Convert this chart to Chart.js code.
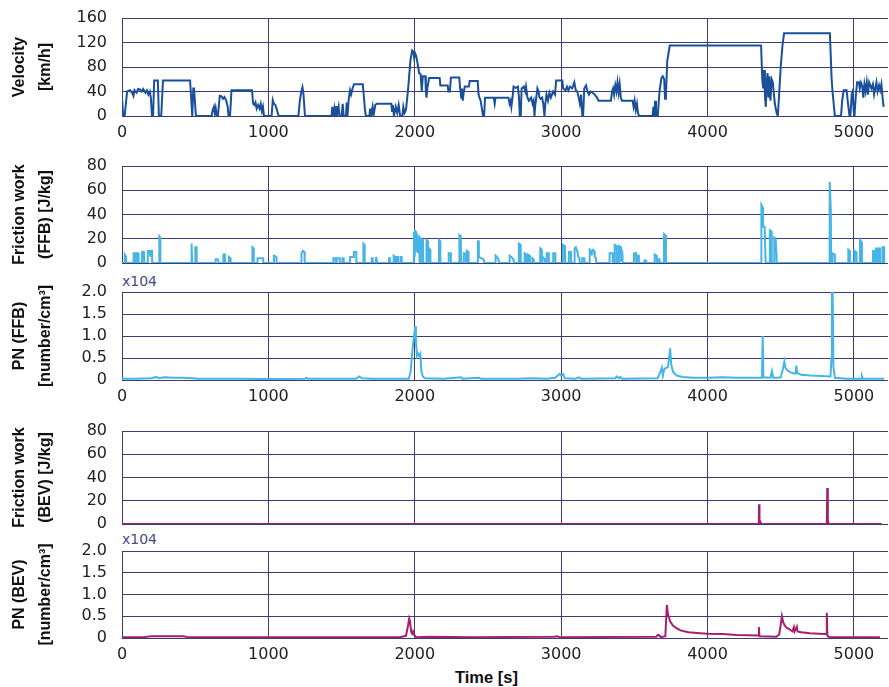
<!DOCTYPE html>
<html>
<head>
<meta charset="utf-8">
<script src="https://cdn.jsdelivr.net/npm/chart.js@4/dist/chart.umd.min.js"></script>
<style>
body { margin:0; background:#fff; width:889px; height:687px; position:relative; overflow:hidden; }
canvas { position:absolute; left:0; }
.mult { position:absolute; left:122px; font:14px "DejaVu Sans", sans-serif; line-height:14px; color:#4a4a86; }
#xtitle { position:absolute; left:455px; top:669px; font:bold 16.5px "Liberation Sans", Arial, sans-serif; line-height:16px; color:#111; }
</style>
</head>
<body>
<div class="mult" style="top:274px">x104</div>
<div class="mult" style="top:532px">x104</div>
<div id="xtitle">Time [s]</div>
<script>
// time axis
var xTicks = [0, 1000, 2000, 3000, 4000, 5000];
var xMax = 5233;

// [time s, km/h]
var velocity = [
  [0,30],[8,0],[18,0],[35,40],[55,42],[70,38],[78,33],[85,42],[100,38],[110,44],[125,43],[135,40],[145,44],
  [160,38],[170,42],[180,35],[190,40],[197,30],[205,0],[212,0],[220,58],[245,58],[252,0],[268,0],[280,58],
  [465,58],[480,0],[487,45],[492,45],[505,0],[612,0],[620,10],[628,15],[634,5],[640,13],[648,0],[655,0],
  [668,33],[680,32],[690,28],[700,31],[712,25],[722,15],[728,0],[738,0],[748,42],[888,42],[896,20],[905,18],
  [912,22],[920,12],[930,18],[940,12],[948,20],[956,8],[963,15],[970,0],[1022,0],[1030,26],[1038,20],
  [1048,18],[1056,12],[1070,0],[1205,0],[1215,25],[1225,40],[1233,47],[1240,35],[1250,0],[1432,0],
  [1436,15],[1442,0],[1450,12],[1455,0],[1462,16],[1468,0],[1480,15],[1486,0],[1500,0],[1508,20],[1514,0],
  [1530,0],[1535,22],[1540,0],[1550,30],[1558,42],[1565,35],[1575,45],[1585,52],[1645,52],[1660,10],
  [1666,0],[1690,0],[1695,12],[1700,0],[1712,15],[1718,0],[1730,18],[1740,20],[1840,20],[1845,8],[1850,18],
  [1858,0],[1870,15],[1880,5],[1890,18],[1900,0],[1915,0],[1922,15],[1930,5],[1940,10],[1955,45],[1970,90],
  [1982,107],[1990,105],[1996,95],[2003,102],[2010,98],[2020,85],[2030,70],[2040,68],[2048,40],[2055,65],
  [2072,65],[2076,40],[2080,30],[2086,45],[2098,62],[2170,62],[2175,50],[2225,50],[2230,40],[2240,40],
  [2247,63],[2304,63],[2310,45],[2318,30],[2322,45],[2328,25],[2335,40],[2342,48],[2370,48],[2375,57],
  [2430,57],[2436,35],[2442,30],[2450,25],[2460,10],[2466,0],[2474,0],[2480,30],[2540,30],[2546,20],
  [2552,30],[2640,30],[2648,20],[2655,25],[2660,15],[2668,30],[2675,48],[2690,46],[2705,48],[2712,30],
  [2718,0],[2724,0],[2730,45],[2745,48],[2755,40],[2760,48],[2770,30],[2780,25],[2795,30],[2805,20],
  [2812,25],[2818,0],[2822,15],[2830,30],[2838,45],[2846,40],[2852,30],[2860,28],[2870,30],[2878,20],
  [2886,0],[2892,20],[2900,35],[2910,25],[2920,38],[2930,30],[2945,40],[2958,35],[2966,58],[3008,58],
  [3014,45],[3030,42],[3040,48],[3050,42],[3060,48],[3075,45],[3090,55],[3100,42],[3110,40],[3120,30],
  [3128,20],[3136,35],[3145,0],[3150,0],[3158,45],[3170,50],[3180,40],[3190,35],[3200,40],[3215,38],
  [3230,35],[3245,30],[3255,25],[3340,25],[3348,40],[3355,45],[3362,35],[3370,50],[3378,40],[3385,55],
  [3393,38],[3400,52],[3408,30],[3415,25],[3488,25],[3495,15],[3502,25],[3510,10],[3518,20],[3525,5],
  [3532,0],[3625,0],[3630,15],[3636,0],[3642,25],[3648,0],[3660,0],[3672,40],[3685,62],[3694,65],
  [3704,60],[3710,28],[3716,35],[3725,90],[3742,115],[4366,115],[4374,60],[4380,45],[4386,75],[4392,35],
  [4398,15],[4404,55],[4410,70],[4416,30],[4422,65],[4430,25],[4438,60],[4446,55],[4460,20],[4472,5],
  [4480,0],[4488,30],[4500,80],[4512,115],[4523,135],[4836,135],[4848,60],[4854,40],[4862,20],[4870,0],
  [4912,0],[4920,25],[4930,42],[4950,42],[4960,20],[4970,0],[4976,0],[4985,35],[4992,40],[4998,10],
  [5004,0],[5012,30],[5022,55],[5034,55],[5040,45],[5048,55],[5056,50],[5064,30],[5072,52],[5080,40],
  [5088,55],[5096,35],[5104,55],[5112,50],[5120,45],[5130,52],[5138,35],[5146,45],[5154,55],[5162,40],
  [5172,50],[5180,42],[5188,52],[5196,30],[5203,15]
];

// [time s, J/kg]
var ffbWork = [
  [0,0],[18,0],[19,7],[24,6],[27,0],[78,0],[79,8],[90,8],[91,0],[100,0],[101,8],[112,8],[113,0],
  [136,0],[137,9],[150,9],[151,0],[175,0],[176,10],[190,10],[192,6],[194,10],[205,10],[206,0],
  [254,0],[255,22],[261,21],[262,0],[472,0],[473,16],[478,15],[479,0],[500,0],[501,13],[509,13],[510,0],
  [636,0],[640,3],[655,3],[660,0],[692,0],[693,7],[703,7],[704,0],[730,0],[731,5],[741,4],[742,0],
  [890,0],[891,13],[899,12],[900,0],[925,0],[926,4],[964,4],[965,0],[1038,0],[1039,6],[1055,5],[1056,0],
  [1225,0],[1226,8],[1235,10],[1247,9],[1248,0],[1443,0],[1444,4],[1459,4],[1460,0],[1466,0],[1467,4],
  [1487,4],[1488,0],[1505,0],[1506,4],[1514,4],[1515,0],[1557,0],[1558,5],[1582,5],[1584,9],[1600,9],
  [1601,0],[1648,0],[1649,16],[1657,15],[1658,0],[1705,0],[1706,4],[1712,4],[1713,0],[1735,0],[1736,5],
  [1742,5],[1743,0],[1823,0],[1824,4],[1830,4],[1831,0],[1855,0],[1856,6],[1866,5],[1867,0],[1875,0],
  [1876,5],[1886,5],[1887,0],[1903,0],[1904,5],[1910,5],[1911,0],[1993,0],[1994,25],[1999,25],[2000,5],
  [2002,26],[2008,25],[2010,10],[2013,24],[2020,22],[2022,8],[2025,20],[2030,21],[2033,0],[2044,0],
  [2045,20],[2056,19],[2057,0],[2079,0],[2080,19],[2090,18],[2091,0],[2098,0],[2099,12],[2106,11],
  [2107,0],[2165,0],[2166,19],[2174,18],[2175,0],[2231,0],[2232,8],[2246,8],[2247,0],[2304,0],[2305,23],
  [2315,22],[2316,0],[2334,0],[2335,8],[2349,8],[2350,0],[2355,0],[2356,10],[2367,9],[2368,0],[2430,0],
  [2431,18],[2436,18],[2438,5],[2470,3],[2476,0],[2551,0],[2552,6],[2562,5],[2574,2],[2576,0],[2647,0],
  [2648,6],[2660,5],[2674,3],[2676,0],[2710,0],[2711,16],[2723,15],[2724,0],[2750,0],[2751,8],[2762,7],
  [2763,0],[2773,0],[2774,7],[2786,6],[2787,0],[2803,0],[2804,4],[2812,3],[2813,0],[2856,0],[2857,12],
  [2867,11],[2868,0],[2872,0],[2873,5],[2890,3],[2891,0],[2900,0],[2901,8],[2915,8],[2916,0],[2945,0],
  [2946,8],[2960,8],[2961,0],[3011,0],[3012,15],[3026,14],[3027,0],[3052,0],[3053,9],[3067,9],[3068,0],
  [3091,0],[3092,12],[3100,13],[3110,10],[3118,5],[3125,4],[3126,0],[3143,0],[3144,4],[3158,4],[3159,0],
  [3194,0],[3195,11],[3204,10],[3206,7],[3210,10],[3218,11],[3225,10],[3230,5],[3238,4],[3240,0],
  [3330,0],[3331,8],[3352,8],[3353,0],[3365,0],[3366,15],[3380,14],[3381,0],[3395,0],[3396,14],[3409,13],
  [3410,4],[3418,7],[3420,0],[3497,0],[3498,8],[3512,8],[3513,0],[3519,0],[3520,6],[3530,6],[3531,0],
  [3568,0],[3569,2],[3580,2],[3581,0],[3638,0],[3639,7],[3653,6],[3654,0],[3663,0],[3664,3],[3672,3],
  [3673,0],[3702,0],[3703,24],[3712,23],[3716,0],[4367,0],[4368,48],[4376,46],[4379,30],[4390,30],
  [4397,0],[4425,0],[4426,27],[4438,26],[4439,0],[4455,0],[4456,21],[4466,20],[4470,8],[4472,0],
  [4830,0],[4833,55],[4836,67],[4842,45],[4845,0],[4853,0],[4854,8],[4870,7],[4871,0],[4961,0],[4962,11],
  [4972,10],[4973,0],[5002,0],[5003,10],[5016,9],[5018,0],[5041,0],[5042,19],[5054,17],[5055,0],
  [5130,0],[5131,10],[5140,10],[5141,0],[5150,0],[5151,12],[5162,12],[5163,0],[5167,0],[5168,12],
  [5177,12],[5178,0],[5194,0],[5195,13],[5206,13],[5207,0]
];

// [time s, number/cm3 x10^4]
var ffbPn = [
  [0,0.03],[100,0.03],[200,0.04],[235,0.07],[250,0.04],[290,0.06],[350,0.05],[420,0.05],[480,0.04],
  [520,0.03],[800,0.03],[1000,0.02],[1250,0.03],[1260,0.05],[1270,0.03],[1600,0.03],[1620,0.08],
  [1640,0.04],[1700,0.03],[1960,0.03],[1972,0.2],[1985,0.7],[1995,1.0],[2003,1.22],[2008,0.9],[2015,0.55],
  [2022,0.6],[2030,0.55],[2038,0.6],[2045,0.2],[2055,0.08],[2070,0.04],[2200,0.03],[2316,0.06],[2325,0.03],
  [2440,0.05],[2450,0.03],[2700,0.03],[2800,0.04],[2900,0.03],[2960,0.05],[2990,0.14],[3000,0.1],
  [3015,0.13],[3025,0.04],[3100,0.03],[3125,0.06],[3135,0.03],[3370,0.04],[3380,0.08],[3395,0.04],
  [3405,0.07],[3415,0.03],[3660,0.04],[3680,0.2],[3688,0.28],[3695,0.1],[3705,0.25],[3730,0.3],
  [3745,0.72],[3752,0.35],[3765,0.18],[3790,0.1],[3830,0.07],[3900,0.05],[4000,0.05],[4100,0.06],
  [4200,0.05],[4372,0.05],[4377,1.0],[4382,0.06],[4430,0.05],[4440,0.2],[4448,0.05],[4480,0.05],
  [4500,0.06],[4515,0.25],[4525,0.42],[4532,0.28],[4545,0.22],[4565,0.18],[4590,0.15],[4602,0.15],
  [4607,0.33],[4612,0.16],[4640,0.12],[4700,0.1],[4780,0.09],[4840,0.08],[4847,0.5],[4850,2.0],
  [4855,2.0],[4860,0.3],[4870,0.05],[4950,0.03],[5050,0.03],[5055,0.08],[5060,0.03],[5207,0.03]
];

var bevWork = [
  [0,0],[4350,0],[4352,17],[4354,16],[4356,4],[4360,2],[4364,0],[4815,0],[4818,31],[4821,30],[4823,3],
  [4828,0],[5190,0]
];

var bevPn = [
  [0,0.02],[150,0.02],[200,0.04],[300,0.04],[420,0.04],[450,0.02],[1900,0.02],[1940,0.05],[1955,0.3],
  [1962,0.45],[1968,0.38],[1975,0.15],[1982,0.1],[1988,0.15],[1995,0.08],[2010,0.02],[2100,0.03],
  [2400,0.02],[2950,0.03],[2970,0.04],[2990,0.02],[3650,0.03],[3662,0.07],[3672,0.06],[3680,0.02],
  [3712,0.04],[3722,0.76],[3730,0.55],[3745,0.38],[3765,0.28],[3790,0.22],[3820,0.17],[3870,0.13],
  [3950,0.11],[4000,0.1],[4100,0.09],[4200,0.07],[4348,0.06],[4351,0.25],[4355,0.04],[4470,0.03],
  [4490,0.08],[4500,0.3],[4508,0.5],[4518,0.35],[4535,0.25],[4560,0.2],[4580,0.15],[4590,0.25],
  [4595,0.15],[4610,0.26],[4615,0.15],[4640,0.13],[4700,0.11],[4760,0.1],[4812,0.09],[4815,0.58],
  [4819,0.05],[4830,0.02],[5178,0.02]
];

var titles = [
  ['Velocity', '[km/h]'],
  ['Friction work', '(FFB) [J/kg]'],
  ['PN (FFB)', '[number/cm\u00b3]'],
  ['Friction work', '(BEV) [J/kg]'],
  ['PN (BEV)', '[number/cm\u00b3]']
];

var GRID = '#3d3c74';
var PAD = 12;

function panel(top, bottom, showX, yMax, yStep, data, color, title) {
  var xh = showX ? 32 : 6;
  var cv = document.createElement('canvas');
  cv.width = 889;
  cv.height = (bottom - top) + PAD + xh;
  cv.style.top = (top - PAD) + 'px';
  document.body.appendChild(cv);

  new Chart(cv, {
    type: 'line',
    data: {
      datasets: [{
        data: data.map(p => ({x: p[0], y: p[1]})),
        borderColor: color,
        borderWidth: 2,
        pointRadius: 0,
        tension: 0,
        fill: false
      }]
    },
    options: {
      responsive: false,
      animation: false,
      layout: { padding: { top: PAD, right: 1, left: 0, bottom: 0 } },
      plugins: { legend: { display: false }, tooltip: { enabled: false } },
      scales: {
        x: {
          type: 'linear', min: 0, max: xMax,
          afterBuildTicks: s => { s.ticks = xTicks.map(v => ({value: v})); },
          afterFit: s => { s.height = xh; s.paddingLeft = 0; s.paddingRight = 0; },
          ticks: { display: showX, autoSkip: false, padding: 7, maxRotation: 0, color: '#222',
                   font: { family: 'DejaVu Sans', size: 16 },
                   callback: v => String(v) },
          grid: { color: GRID, lineWidth: 1, drawTicks: false },
          border: { display: false }
        },
        y: {
          min: 0, max: yMax,
          afterFit: s => { s.width = 122; s.paddingTop = 0; s.paddingBottom = 0; },
          ticks: { stepSize: yStep, autoSkip: false, padding: 15, color: '#222',
                   font: { family: 'DejaVu Sans', size: 16 },
                   callback: v => v === 0 ? '0' : (yStep < 1 ? v.toFixed(1) : String(v)) },
          grid: { color: GRID, lineWidth: 1, drawTicks: false },
          border: { display: false },
          title: { display: true, text: title, color: '#111',
                   font: { family: 'Liberation Sans', size: 16, weight: 'bold', lineHeight: 25.5 / 16 },
                   padding: { top: 7, bottom: 0 } }
        }
      }
    }
  });
}

panel(18, 116, true, 160, 40, velocity, '#1a4f9c', titles[0]);
panel(166, 263, false, 80, 20, ffbWork, '#45b4e6', titles[1]);
panel(292, 380, true, 2.0, 0.5, ffbPn, '#45b4e6', titles[2]);
panel(431, 524, false, 80, 20, bevWork, '#a61f6e', titles[3]);
panel(551, 638, true, 2.0, 0.5, bevPn, '#a61f6e', titles[4]);
</script>
</body>
</html>
